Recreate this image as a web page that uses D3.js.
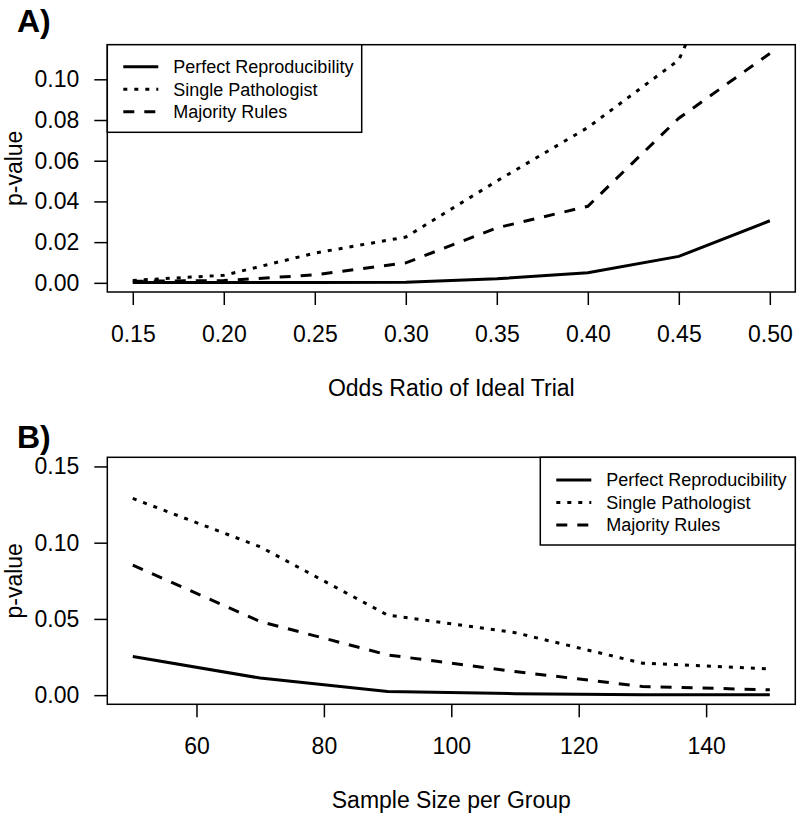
<!DOCTYPE html>
<html>
<head>
<meta charset="utf-8">
<script src="https://cdn.jsdelivr.net/npm/d3@7"></script>
<style>
  html, body { margin: 0; padding: 0; background: #fff; }
  svg { display: block; font-family: "Liberation Sans", Arial, sans-serif; }
</style>
</head>
<body>
<svg id="chart" width="800" height="815"></svg>
<script>
// ---- Panel A data ----
const oddsRatios = [0.15, 0.20, 0.25, 0.30, 0.35, 0.40, 0.45, 0.50];
const aPerfect  = [0.0002, 0.0002, 0.0002, 0.0003, 0.002, 0.005, 0.013, 0.0305];
const aSingle   = [0.0012, 0.0037, 0.0146, 0.0225, 0.050, 0.0763, 0.1095, 0.21];
const aMajority = [0.0008, 0.0011, 0.0039, 0.0098, 0.027, 0.0376, 0.0809, 0.1127];
const aXTicks = [0.15, 0.20, 0.25, 0.30, 0.35, 0.40, 0.45, 0.50];
const aYTicks = [0.00, 0.02, 0.04, 0.06, 0.08, 0.10];

// ---- Panel B data ----
const sampleSizes = [50, 70, 90, 110, 130, 150];
const bPerfect  = [0.0253, 0.0112, 0.0024, 0.001, 0.0003, 0.0002];
const bSingle   = [0.129, 0.0973, 0.0525, 0.041, 0.021, 0.0172];
const bMajority = [0.0853, 0.0483, 0.0264, 0.0155, 0.0057, 0.0035];
const bXTicks = [60, 80, 100, 120, 140];
const bYTicks = [0.00, 0.05, 0.10, 0.15];

const seriesNames = ["Perfect Reproducibility", "Single Pathologist", "Majority Rules"];
const dashes = [null, "4,7", "11,10"];

const svg = d3.select("#chart");
const FONT = "Liberation Sans, Arial, sans-serif";

function panel(cfg) {
  const g = svg.append("g");
  const x = d3.scaleLinear().domain(cfg.xDom).range([107.3, 795.3]);
  const y = d3.scaleLinear().domain(cfg.yDom).range([cfg.bottom, cfg.top]);
  const clipId = "clip" + cfg.id;
  svg.append("clipPath").attr("id", clipId).append("rect")
    .attr("x", 107.3).attr("y", cfg.top).attr("width", 688).attr("height", cfg.bottom - cfg.top);

  // lines
  const line = d3.line().x(d => x(d[0])).y(d => y(d[1]));
  cfg.series.forEach((vals, i) => {
    g.append("path")
      .datum(cfg.xs.map((xv, j) => [xv, vals[j]]))
      .attr("clip-path", `url(#${clipId})`)
      .attr("d", line)
      .attr("fill", "none")
      .attr("stroke", "#000")
      .attr("stroke-width", 3)
      .attr("stroke-dasharray", dashes[i]);
  });

  // box
  g.append("rect").attr("x", 107.3).attr("y", cfg.top).attr("width", 688).attr("height", cfg.bottom - cfg.top)
    .attr("fill", "none").attr("stroke", "#000").attr("stroke-width", 1.5);

  // axes
  const xa = g.append("g").attr("transform", `translate(0,${cfg.bottom})`)
    .call(d3.axisBottom(x).tickValues(cfg.xTicks).tickFormat(cfg.xFmt).tickSize(13).tickSizeOuter(0).tickPadding(20.5));
  const ya = g.append("g").attr("transform", `translate(107.3,0)`)
    .call(d3.axisLeft(y).tickValues(cfg.yTicks).tickFormat(d3.format(".2f")).tickSize(13).tickSizeOuter(0).tickPadding(15));
  [xa, ya].forEach(a => {
    a.select(".domain").remove();
    a.attr("font-size", 23).attr("font-family", FONT);
    a.selectAll("line").attr("stroke", "#000").attr("stroke-width", 1.5);
    a.selectAll("text").attr("fill", "#000");
  });

  // titles
  g.append("text").attr("x", 451.3).attr("y", cfg.bottom + 104).attr("text-anchor", "middle")
    .attr("font-size", 23).text(cfg.xTitle);
  const cy = (cfg.top + cfg.bottom) / 2;
  g.append("text").attr("transform", `translate(22,${cy}) rotate(-90)`).attr("text-anchor", "middle")
    .attr("font-size", 23).text("p-value");
  g.append("text").attr("x", 17).attr("y", cfg.labelY).attr("font-size", 32).attr("font-weight", "bold").text(cfg.label);

  // legend
  const L = cfg.legend;
  g.append("rect").attr("x", L.x).attr("y", cfg.top).attr("width", L.w).attr("height", L.h)
    .attr("fill", "#fff").attr("stroke", "#000").attr("stroke-width", 1.5);
  seriesNames.forEach((name, i) => {
    const ry = cfg.top + L.row0 + i * 22.5;
    g.append("line").attr("x1", L.x + 16).attr("x2", L.x + 51).attr("y1", ry).attr("y2", ry)
      .attr("stroke", "#000").attr("stroke-width", 3).attr("stroke-dasharray", dashes[i]);
    g.append("text").attr("x", L.x + 66).attr("y", ry).attr("dy", "0.35em").attr("font-size", 18).text(name);
  });
}

panel({
  id: "A", xs: oddsRatios, series: [aPerfect, aSingle, aMajority],
  xDom: [0.136, 0.514], yDom: [-0.0045, 0.117], top: 44.7, bottom: 292,
  xTicks: aXTicks, yTicks: aYTicks, xFmt: d3.format(".2f"),
  xTitle: "Odds Ratio of Ideal Trial", label: "A)", labelY: 32,
  legend: { x: 107.3, w: 254.4, h: 87.6, row0: 22 }
});

panel({
  id: "B", xs: sampleSizes, series: [bPerfect, bSingle, bMajority],
  xDom: [46, 154], yDom: [-0.006, 0.156], top: 457.3, bottom: 704.3,
  xTicks: bXTicks, yTicks: bYTicks, xFmt: d3.format("d"),
  xTitle: "Sample Size per Group", label: "B)", labelY: 448,
  legend: { x: 540.3, w: 255, h: 87.7, row0: 22.7 }
});
</script>
</body>
</html>
